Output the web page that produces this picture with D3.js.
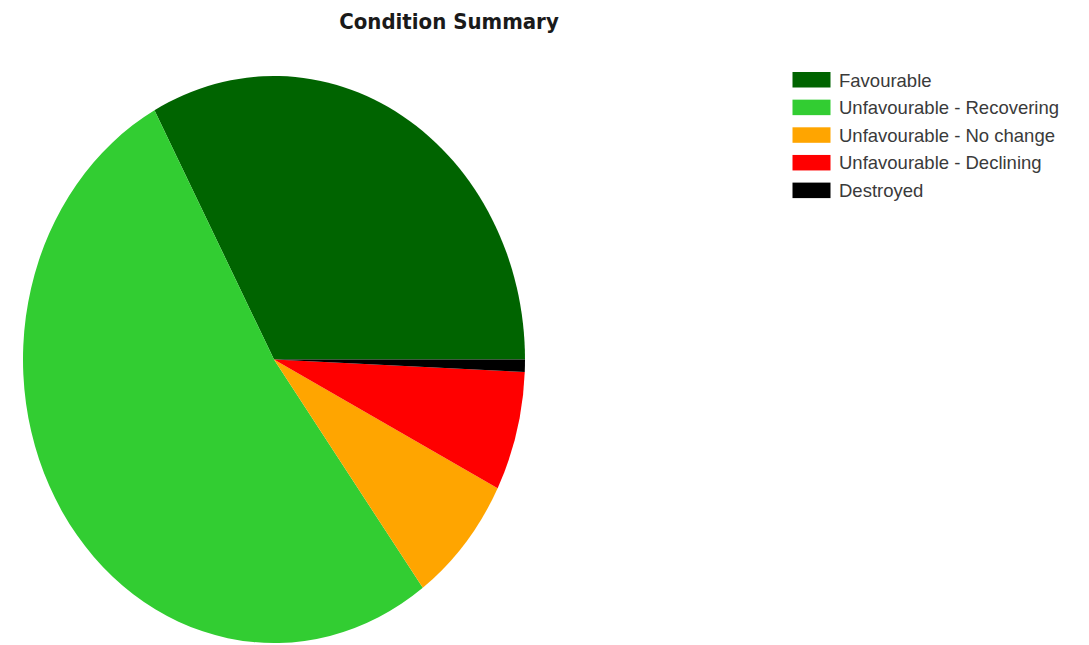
<!DOCTYPE html>
<html>
<head>
<meta charset="utf-8">
<script src="https://cdn.jsdelivr.net/npm/d3@7"></script>
<style>
  html, body { margin: 0; padding: 0; background: #fff; }
  svg { display: block; }
</style>
</head>
<body>
<svg id="chart" width="1089" height="645"></svg>
<script>
// Condition categories, shares (percent) and slice colours
const categories = [
  "Favourable",
  "Unfavourable - Recovering",
  "Unfavourable - No change",
  "Unfavourable - Declining",
  "Destroyed"
];
const values = [32.9, 52.2, 7.4, 6.8, 0.7];
const colors = ["#006400", "#32CD32", "#FFA500", "#FF0000", "#000000"];

const svg = d3.select("#chart");

// Title
svg.append("text")
  .attr("x", 449)
  .attr("y", 29)
  .attr("text-anchor", "middle")
  .style("font-family", "'DejaVu Sans Condensed', 'DejaVu Sans', sans-serif")
  .style("font-stretch", "condensed")
  .style("font-weight", "bold")
  .style("font-size", "22px")
  .style("fill", "#1a1a1a")
  .text("Condition Summary");

// Pie: starts at 3 o'clock and runs counter-clockwise, drawn as an ellipse
const cx = 274, cy = 359.5, rx = 251, ry = 283.5;

const pie = d3.pie()
  .sort(null)
  .value(d => d.value)
  .startAngle(Math.PI / 2)
  .endAngle(Math.PI / 2 - 2 * Math.PI);

const arc = d3.arc().innerRadius(0).outerRadius(rx);

const data = categories.map((c, i) => ({ name: c, value: values[i] }));

const color = d3.scaleOrdinal().domain(categories).range(colors);

svg.append("g")
  .attr("transform", `translate(${cx},${cy}) scale(1,${ry / rx})`)
  .selectAll("path")
  .data(pie(data))
  .join("path")
  .attr("d", arc)
  .attr("fill", d => color(d.data.name));

// Legend
const legend = svg.append("g").attr("transform", "translate(792.5,72)");
const rowH = 27.65;
const items = legend.selectAll("g")
  .data(categories)
  .join("g")
  .attr("transform", (d, i) => `translate(0,${i * rowH})`);

items.append("rect")
  .attr("width", 38)
  .attr("height", 15.5)
  .attr("fill", d => color(d));

items.append("text")
  .attr("x", 46.5)
  .attr("y", 14.5)
  .style("font-family", "'Liberation Sans', Arial, sans-serif")
  .style("font-size", "18.5px")
  .style("fill", "#3a3a3a")
  .text(d => d);
</script>
</body>
</html>
